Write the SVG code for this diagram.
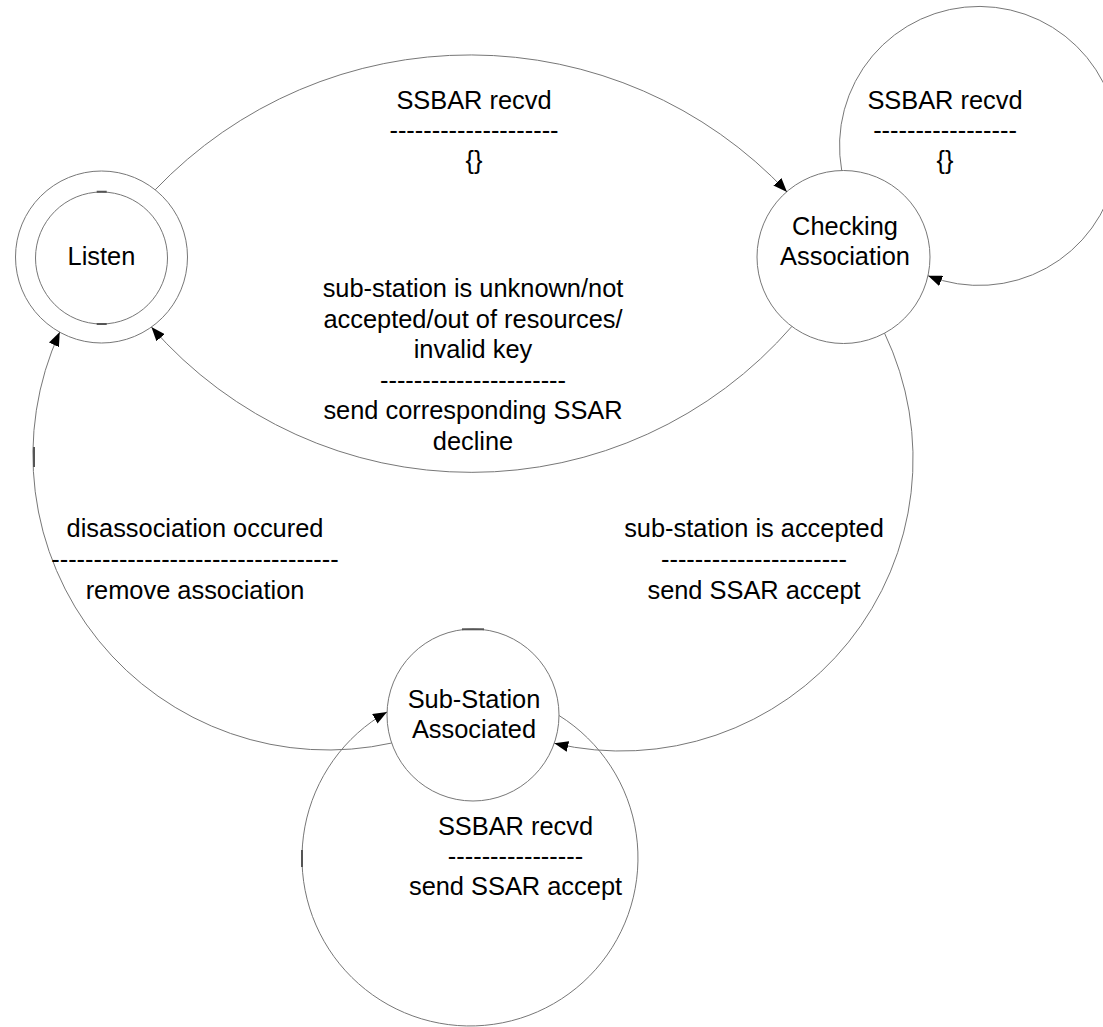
<svg xmlns="http://www.w3.org/2000/svg" width="1103" height="1027" viewBox="0 0 1103 1027">
  <style>
    .state { fill: #ffffff; stroke: #777777; stroke-width: 1; }
    .edge { fill: none; stroke: #777777; stroke-width: 1; marker-end: url(#arrow); }
    .tick { stroke: #555555; stroke-width: 2; fill: none; }
    text { font-family: "Liberation Sans", Arial, sans-serif; font-size: 25.4px; fill: #000000; text-anchor: middle; }
  </style>
  <defs>
    <marker id="arrow" markerUnits="userSpaceOnUse" viewBox="0 0 14 11" refX="14" refY="5.5" markerWidth="14" markerHeight="11" orient="auto">
      <path d="M0,0 L14,5.5 L0,11 z" fill="#000000"/>
    </marker>
  </defs>

  <rect x="0" y="0" width="1103" height="1027" fill="#ffffff"/>

  <!-- states -->
  <g id="listen">
    <circle class="state" cx="101.5" cy="257" r="86"/>
    <circle class="state" cx="101.5" cy="258" r="66"/>
    <path class="tick" d="M96.7,191.7 H106.7 M96.7,324 H106.7"/>
    <text x="101.5" y="265">Listen</text>
  </g>

  <g id="checking-association">
    <circle class="state" cx="843.5" cy="257" r="86.5"/>
    <text x="845" y="235">Checking</text>
    <text x="845" y="265">Association</text>
  </g>

  <g id="sub-station-associated">
    <circle class="state" cx="473" cy="715" r="86"/>
    <path class="tick" d="M462,629.3 H484"/>
    <text x="474" y="708">Sub-Station</text>
    <text x="474" y="738">Associated</text>
  </g>

  <!-- transitions -->
  <g id="connectors">
    <path class="edge" d="M155.2,189.8 A435,435 0 0 1 787,192"/>
    <path class="edge" d="M792,326.3 A425,425 0 0 1 151.4,327.1"/>
    <path class="edge" d="M391.8,743 A295,295 0 0 1 59.75,332.1"/>
    <path class="edge" d="M884.5,333.1 A292,292 0 0 1 554.3,743.3"/>
    <path class="edge" d="M841.7,170.4 A139.5,139.5 0 1 1 928.1,275.8"/>
    <path class="edge" d="M559,715.5 A168,168 0 1 1 387,711.9"/>
    <path class="tick" d="M34,447 V467 M302,850 V867"/>
  </g>

  <!-- transition labels -->
  <g id="labels">
    <text x="474" y="109">SSBAR recvd</text>
    <text x="474" y="139">--------------------</text>
    <text x="474" y="169">{}</text>

    <text x="945" y="109">SSBAR recvd</text>
    <text x="945" y="139">-----------------</text>
    <text x="945" y="169">{}</text>

    <text x="473" y="297">sub-station is unknown/not</text>
    <text x="473" y="327.5">accepted/out of resources/</text>
    <text x="473" y="358">invalid key</text>
    <text x="473" y="388.5">----------------------</text>
    <text x="473" y="419">send corresponding SSAR</text>
    <text x="473" y="449.5">decline</text>

    <text x="195" y="537">disassociation occured</text>
    <text x="195" y="568">----------------------------------</text>
    <text x="195" y="599">remove association</text>

    <text x="754" y="537">sub-station is accepted</text>
    <text x="754" y="568">----------------------</text>
    <text x="754" y="599">send SSAR accept</text>

    <text x="515.5" y="835">SSBAR recvd</text>
    <text x="515.5" y="865">----------------</text>
    <text x="515.5" y="895">send SSAR accept</text>
  </g>
</svg>
